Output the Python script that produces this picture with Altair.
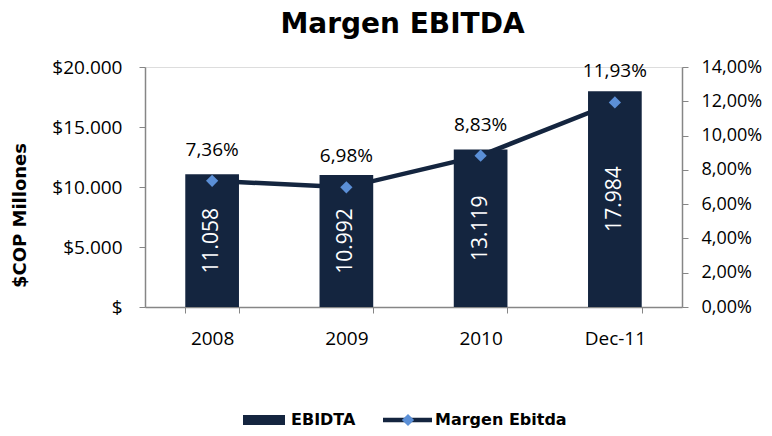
import altair as alt
import pandas as pd

years = ["2008", "2009", "2010", "Dec-11"]
ebitda = [11058, 10992, 13119, 17984]
margin = [0.0736, 0.0698, 0.0883, 0.1193]

NAVY = "#14253f"
BLUE = "#5b8fd6"
GRAY = "#868686"
FONT = "Open Sans"
BOLD = "DejaVu Sans"

df = pd.DataFrame({"year": years, "ebitda": ebitda, "margin": margin})
df["half"] = df["ebitda"] / 2
df["elabel"] = [f"{v:,}".replace(",", ".") for v in ebitda]
df["mlabel"] = [f"{v*100:.2f}%".replace(".", ",") for v in margin]

xenc = alt.X("year:N", sort=years, title=None,
             scale=alt.Scale(paddingInner=0.6, paddingOuter=0.3),
             axis=alt.Axis(labelAngle=0, labelFont=FONT, labelFontSize=19, labelColor="black",
                           labelPadding=16, tickBand="extent", tickSize=6, tickColor=GRAY,
                           domainColor=GRAY, domainWidth=1.5, grid=False))
yE = alt.Scale(domain=[0, 20000], nice=False)
yM = alt.Scale(domain=[0, 0.14], nice=False)

base = alt.Chart(df)

line = base.mark_line(color=NAVY, strokeWidth=4.5).encode(
    x=xenc, y=alt.Y("margin:Q", scale=yM, axis=None))

bars = base.mark_bar(color=NAVY).encode(
    x=xenc,
    y=alt.Y("ebitda:Q", scale=yE, title="$COP Millones",
            axis=alt.Axis(values=[0, 5000, 10000, 15000, 20000],
                          labelExpr="datum.value == 0 ? '$' : '$' + replace(format(datum.value, ','), ',', '.')",
                          labelFont=FONT, labelFontSize=19, labelColor="black", labelPadding=17,
                          tickSize=6, tickColor=GRAY, domainColor=GRAY, domainWidth=1.5,
                          grid=False,
                          titleFont=BOLD, titleFontSize=18, titleFontWeight="bold", titleColor="black",
                          titleAngle=270, titleX=-125, titleY=148, titleAlign="center",
                          titleBaseline="middle")))

btext = base.mark_text(color="white", font=FONT, fontSize=21, angle=270,
                       align="center", baseline="middle").encode(
    x=xenc, y=alt.Y("half:Q", scale=yE, axis=None), text="elabel:N")

points = base.mark_point(shape="diamond", filled=True, color=BLUE, size=150, opacity=1).encode(
    x=xenc,
    y=alt.Y("margin:Q", scale=yM, title=None,
            axis=alt.Axis(orient="right", values=[0, 0.02, 0.04, 0.06, 0.08, 0.10, 0.12, 0.14],
                          labelExpr="replace(format(datum.value, '.2%'), '.', ',')",
                          labelFont=FONT, labelFontSize=18, labelColor="black", labelPadding=13,
                          tickSize=6, tickColor=GRAY, domainColor=GRAY, domainWidth=1.5,
                          grid=False)))

mtext = base.mark_text(color="black", font=FONT, fontSize=19, align="center",
                       baseline="middle", dy=-31).encode(
    x=xenc, y=alt.Y("margin:Q", scale=yM, axis=None), text="mlabel:N")

leg = alt.Chart(pd.DataFrame({"a": [0]}))
leg_rect = leg.mark_rect(color=NAVY).encode(
    x=alt.value(98), x2=alt.value(140), y=alt.value(348), y2=alt.value(358))
leg_t1 = leg.mark_text(font=BOLD, fontSize=16, fontWeight="bold", align="left",
                       baseline="middle", color="black").encode(
    x=alt.value(146), y=alt.value(353), text=alt.value("EBIDTA"))
leg_line = leg.mark_rule(color=NAVY, strokeWidth=4.5).encode(
    x=alt.value(238), x2=alt.value(287), y=alt.value(353))
leg_pt = leg.mark_point(shape="diamond", filled=True, color=BLUE, size=150, opacity=1).encode(
    x=alt.value(263), y=alt.value(353))
leg_t2 = leg.mark_text(font=BOLD, fontSize=16, fontWeight="bold", align="left",
                       baseline="middle", color="black").encode(
    x=alt.value(290), y=alt.value(353), text=alt.value("Margen Ebitda"))

chart = alt.layer(line, bars, btext, points, mtext,
                  leg_rect, leg_t1, leg_line, leg_pt, leg_t2).resolve_scale(
    y="independent").properties(
    width=537, height=240,
    title=alt.TitleParams("Margen EBITDA", font=BOLD, fontSize=28, fontWeight="bold",
                          color="black", anchor="middle", dx=-11, offset=19),
    autosize=alt.AutoSizeParams(type="none"),
    padding={"left": 137, "top": 59, "right": 82, "bottom": 121},
).configure_view(stroke=None).configure_axis(
    grid=False, gridColor="white", gridOpacity=0
).configure(background="white")

chart.save("out.html", embed_options={"renderer": "svg", "actions": False})
